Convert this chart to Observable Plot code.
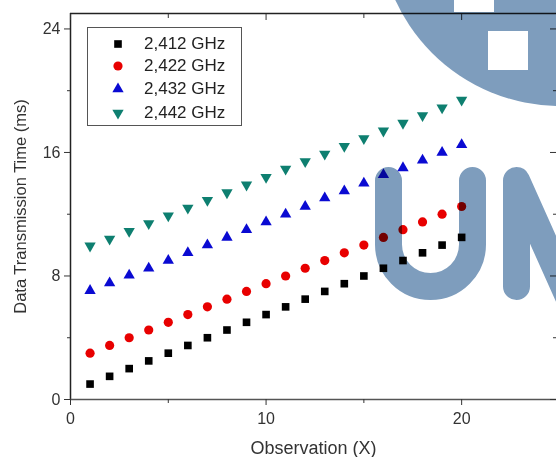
<!DOCTYPE html>
<html>
<head>
<meta charset="utf-8">
<script src="https://cdn.jsdelivr.net/npm/d3@7"></script>
<script src="https://cdn.jsdelivr.net/npm/@observablehq/plot@0.6"></script>
<style>
  html, body { margin: 0; padding: 0; background: #fff; }
  #wrap { position: relative; width: 556px; height: 457px; overflow: hidden; font-family: "Liberation Sans", Arial, sans-serif; }
  #legend { position: absolute; left: 87px; top: 27px; width: 155px; height: 99px; border: 1px solid #555; background: #fff; box-sizing: border-box; }
  .item { position: absolute; left: 0; height: 22px; display: flex; align-items: center; font-size: 17px; color: #222; }
  .item svg { margin-left: 23px; margin-right: 19px; }
  #wm { position: absolute; left: 0; top: 0; mix-blend-mode: multiply; pointer-events: none; }
</style>
</head>
<body>
<div id="wrap"></div>
<script>
// ---- data ----
const observation = [1,2,3,4,5,6,7,8,9,10,11,12,13,14,15,16,17,18,19,20];
const seriesNames = ["2,412 GHz", "2,422 GHz", "2,432 GHz", "2,442 GHz"];
const f2412 = [1.0,1.5,2.0,2.5,3.0,3.5,4.0,4.5,5.0,5.5,6.0,6.5,7.0,7.5,8.0,8.5,9.0,9.5,10.0,10.5];
const f2422 = [3.0,3.5,4.0,4.5,5.0,5.5,6.0,6.5,7.0,7.5,8.0,8.5,9.0,9.5,10.0,10.5,11.0,11.5,12.0,12.5];
const f2432 = [7.05,7.55,8.05,8.5,9.0,9.5,10.0,10.5,11.0,11.5,12.0,12.5,13.05,13.5,14.0,14.55,15.0,15.5,16.0,16.5];
const f2442 = [9.95,10.4,10.9,11.4,11.9,12.4,12.9,13.4,13.9,14.4,14.93,15.42,15.9,16.4,16.9,17.4,17.9,18.4,18.9,19.4];
const xMajorTicks = [0, 10, 20];
const xMinorTicks = [5, 15];
const yMajorTicks = [0, 8, 16, 24];
const yMinorTicks = [4, 12, 20];
const xLabel = "Observation (X)";
const yLabel = "Data Transmission Time (ms)";

// ---- styling ----
const colors = ["#000000", "#e80000", "#0a0ad2", "#0e7f70"];
const triangleDown = {
  draw(context, size) {
    const y = -Math.sqrt(size / (Math.sqrt(3) * 3));
    context.moveTo(0, -y * 2);
    context.lineTo(-Math.sqrt(3) * y, y);
    context.lineTo(Math.sqrt(3) * y, y);
    context.closePath();
  }
};
const symbols = ["square", "circle", "triangle", triangleDown];
const radii = [4.3, 4.6, 4.2, 4.2];

const allSeries = [f2412, f2422, f2432, f2442];
const rows = [];
allSeries.forEach((vals, si) => vals.forEach((v, i) => rows.push({x: observation[i], y: v, s: si})));

const noText = () => "";
const plot = Plot.plot({
  width: 556,
  height: 457,
  marginLeft: 70,
  marginRight: 0,
  marginTop: 13,
  marginBottom: 58,
  x: {domain: [0, 24.85]},
  y: {domain: [0, 25]},
  style: {fontFamily: "'Liberation Sans', Arial, sans-serif", fontSize: "16px", color: "#333", background: "#fff"},
  marks: [
    Plot.ruleX([0], {stroke: "#222", strokeWidth: 1.5}),
    Plot.ruleY([0], {stroke: "#555", strokeWidth: 1.5}),
    Plot.ruleY([25], {stroke: "#222", strokeWidth: 1.5}),
    Plot.axisX({ticks: xMajorTicks, tickSize: 6, tickPadding: 7, label: null, fontSize: 16, stroke: "#333"}),
    Plot.axisX({ticks: xMinorTicks, tickSize: 4, tickFormat: noText, label: null, stroke: "#333"}),
    Plot.axisX({anchor: "top", ticks: xMajorTicks, tickSize: -6, tickFormat: noText, label: null, stroke: "#333"}),
    Plot.axisX({anchor: "top", ticks: xMinorTicks, tickSize: -4, tickFormat: noText, label: null, stroke: "#333"}),
    Plot.axisY({ticks: yMajorTicks, tickSize: 6, tickPadding: 4, label: null, fontSize: 16, stroke: "#333"}),
    Plot.axisY({ticks: yMinorTicks, tickSize: 3, tickFormat: noText, label: null, stroke: "#333"}),
    Plot.axisY({anchor: "right", ticks: yMajorTicks, tickSize: -7, tickFormat: noText, label: null, stroke: "#333"}),
    Plot.axisY({anchor: "right", ticks: yMinorTicks, tickSize: -4, tickFormat: noText, label: null, stroke: "#333"}),
    ...allSeries.map((vals, si) => Plot.dot(rows.filter(d => d.s === si), {
      x: "x", y: "y", symbol: () => symbols[si], r: radii[si], fill: colors[si], stroke: "none"
    })),
    Plot.text([xLabel], {frameAnchor: "bottom", dy: 54, fontSize: 18, fill: "#333"}),
    Plot.text([yLabel], {frameAnchor: "left", textAnchor: "middle", dx: -50, rotate: -90, fontSize: 16.5, fill: "#333"})
  ]
});

const wrap = document.getElementById("wrap");
wrap.appendChild(plot);

// legend
const legend = document.createElement("div");
legend.id = "legend";
const tops = [5, 27, 50, 74];
seriesNames.forEach((name, i) => {
  const item = document.createElement("div");
  item.className = "item";
  item.style.top = tops[i] + "px";
  const svg = d3.create("svg").attr("width", 14).attr("height", 14).attr("viewBox", "-7 -7 14 14");
  svg.append("path")
    .attr("d", d3.symbol(typeof symbols[i] === "string" ? d3["symbol" + symbols[i][0].toUpperCase() + symbols[i].slice(1)] : symbols[i], Math.PI * radii[i] * radii[i])())
    .attr("fill", colors[i]);
  item.appendChild(svg.node());
  const span = document.createElement("span");
  span.textContent = name;
  item.appendChild(span);
  legend.appendChild(item);
});
wrap.appendChild(legend);

// watermark overlay (decorative)
const wm = d3.create("svg").attr("id", "wm").attr("width", 556).attr("height", 457);
const wmColor = "#7e9dbd";
wm.append("circle").attr("cx", 560).attr("cy", -75).attr("r", 181).attr("fill", wmColor);
wm.append("rect").attr("x", 454).attr("y", -5).attr("width", 40).attr("height", 17).attr("fill", "#fff");
wm.append("rect").attr("x", 488).attr("y", 31).attr("width", 40).attr("height", 39).attr("fill", "#fff");
wm.append("path").attr("d", "M388.5,180.5 V244.5 A42,42 0 0 0 472.5,244.5 V180.5")
  .attr("fill", "none").attr("stroke", wmColor).attr("stroke-width", 27).attr("stroke-linecap", "round");
wm.append("path").attr("d", "M516.5,286.5 V180.5 L570,300")
  .attr("fill", "none").attr("stroke", wmColor).attr("stroke-width", 27).attr("stroke-linecap", "round").attr("stroke-linejoin", "round");
wrap.appendChild(wm.node());
</script>
</body>
</html>
